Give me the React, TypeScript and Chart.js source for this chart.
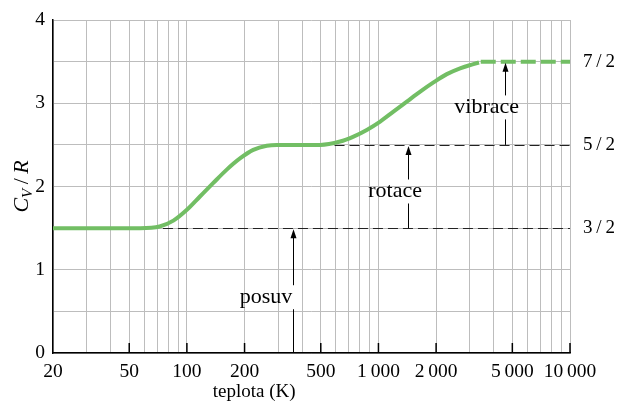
import { useEffect, useRef } from "react";
import { Chart, registerables } from "chart.js";
Chart.register(...registerables);

// Solid part of the curve: temperature (K) and C_V/R
const temperatureK = [20, 57, 72, 85, 100, 117, 137, 161, 190, 222, 261, 295, 496, 631, 741, 869, 1021, 1197, 1406, 1652, 1938, 2275, 2668, 3132, 3350];
const cvOverR = [1.5, 1.5, 1.52, 1.59, 1.72, 1.88, 2.04, 2.2, 2.34, 2.44, 2.49, 2.5, 2.5, 2.54, 2.6, 2.68, 2.78, 2.9, 3.02, 3.14, 3.25, 3.35, 3.42, 3.47, 3.49];
// Dashed continuation
const dashedT = [3420, 10000];
const dashedCv = [3.5, 3.5];

// Axis ticks
const gridT = [20, 30, 40, 50, 60, 70, 80, 90, 100, 200, 300, 400, 500, 600, 700, 800, 900, 1000, 2000, 3000, 4000, 5000, 6000, 7000, 8000, 9000, 10000];
const labeledT = [20, 50, 100, 200, 500, 1000, 2000, 5000, 10000];
const xTickLabels = ["20", "50", "100", "200", "500", "1\u2009000", "2\u2009000", "5\u2009000", "10\u2009000"];
const yGrid = [0, 0.5, 1, 1.5, 2, 2.5, 3, 3.5, 4];
const yLabeled = [0, 1, 2, 3, 4];
const yTickLabels = ["0", "1", "2", "3", "4"];

// Right-hand level labels
const levelValues = [1.5, 2.5, 3.5];
const levelLabels = ["3\u2009/\u20092", "5\u2009/\u20092", "7\u2009/\u20092"];

// Dashed reference levels
const dashedLevels = [1.5, 2.5];
const dashedFromT = [75, 590];

// Degrees of freedom annotations
const modeLabels = ["posuv", "rotace", "vibrace"];
const modeArrowT = [358, 1430, 4580];
const modeFrom = [0, 1.5, 2.5];
const modeTo = [1.5, 2.5, 3.5];
const modeTextT = [259, 1222, 3673];
const modeTextCv = [0.67, 1.94, 2.95];

const SERIF = "'Liberation Serif', 'Times New Roman', 'DejaVu Serif', serif";

const annotationPlugin = {
  id: "annotations",
  beforeDatasetsDraw(chart: any) {
    const { ctx, scales } = chart;
    const x = scales.x, y = scales.y;
    ctx.save();
    ctx.strokeStyle = "#222";
    ctx.lineWidth = 1;
    ctx.setLineDash([10, 5]);
    dashedLevels.forEach((lv, i) => {
      const py = Math.round(y.getPixelForValue(lv)) + 0.5;
      ctx.beginPath();
      ctx.moveTo(x.getPixelForValue(dashedFromT[i]), py);
      ctx.lineTo(x.getPixelForValue(10000), py);
      ctx.stroke();
    });
    ctx.restore();
  },
  afterDraw(chart: any) {
    const { ctx, scales, chartArea } = chart;
    const x = scales.x, y = scales.y;
    ctx.save();
    ctx.strokeStyle = "#000";
    ctx.lineWidth = 1.5;
    labeledT.forEach((t, i) => {
      if (i === 0) return;
      const px = x.getPixelForValue(t);
      ctx.beginPath();
      ctx.moveTo(px, chartArea.bottom);
      ctx.lineTo(px, chartArea.bottom - 10);
      ctx.stroke();
    });
    ctx.lineWidth = 1;
    ctx.fillStyle = "#000";
    modeLabels.forEach((lab, i) => {
      const px = Math.round(x.getPixelForValue(modeArrowT[i])) + 0.5;
      const yFrom = y.getPixelForValue(modeFrom[i]);
      const yTo = y.getPixelForValue(modeTo[i]);
      const yText = y.getPixelForValue(modeTextCv[i]);
      const gap = 12;
      ctx.beginPath();
      ctx.moveTo(px, yFrom);
      ctx.lineTo(px, yText + gap);
      ctx.moveTo(px, yText - gap);
      ctx.lineTo(px, yTo + 6);
      ctx.stroke();
      ctx.beginPath();
      ctx.moveTo(px, yTo + 1);
      ctx.lineTo(px - 3, yTo + 10);
      ctx.lineTo(px + 3, yTo + 10);
      ctx.closePath();
      ctx.fill();
      ctx.font = `22px ${SERIF}`;
      ctx.textAlign = "center";
      ctx.textBaseline = "middle";
      ctx.fillText(lab, x.getPixelForValue(modeTextT[i]), yText);
    });
    ctx.font = `19px ${SERIF}`;
    ctx.textAlign = "left";
    ctx.textBaseline = "middle";
    levelValues.forEach((lv, i) => {
      ctx.fillText(levelLabels[i], chartArea.right + 13, y.getPixelForValue(lv));
    });
    ctx.textAlign = "center";
    ctx.fillText("teplota (K)", chartArea.left + (chartArea.right - chartArea.left) * 0.389, chartArea.bottom + 39);
    ctx.translate(chartArea.left - 33, (chartArea.top + chartArea.bottom) / 2);
    ctx.rotate(-Math.PI / 2);
    ctx.textAlign = "left";
    ctx.textBaseline = "alphabetic";
    const parts = [
      { t: "C", f: `italic 22px ${SERIF}`, dy: 0 },
      { t: "V", f: `italic 15px ${SERIF}`, dy: 4 },
      { t: "\u2009/\u2009", f: `22px ${SERIF}`, dy: 0 },
      { t: "R", f: `italic 22px ${SERIF}`, dy: 0 },
    ];
    let total = 0;
    parts.forEach((p) => { ctx.font = p.f; total += ctx.measureText(p.t).width; });
    let cx = -total / 2;
    parts.forEach((p) => {
      ctx.font = p.f;
      ctx.fillText(p.t, cx, 8 + p.dy);
      cx += ctx.measureText(p.t).width;
    });
    ctx.restore();
  },
};

export default function App() {
  const ref = useRef<HTMLCanvasElement | null>(null);
  useEffect(() => {
    let chart: any = null;
    let cancelled = false;
    const build = () => {
      if (cancelled || !ref.current) return;
      chart = new Chart(ref.current, {
        type: "line",
        data: {
          datasets: [
            {
              data: temperatureK.map((t, i) => ({ x: t, y: cvOverR[i] })),
              borderColor: "rgb(114,190,100)",
              borderWidth: 4,
              pointRadius: 0,
              cubicInterpolationMode: "monotone",
              borderCapStyle: "butt",
              fill: false,
            },
            {
              data: dashedT.map((t, i) => ({ x: t, y: dashedCv[i] })),
              borderColor: "rgb(114,190,100)",
              borderWidth: 4,
              pointRadius: 0,
              borderDash: [15, 5],
              borderCapStyle: "butt",
              fill: false,
            },
          ],
        },
        options: {
          animation: false,
          responsive: false,
          layout: { padding: { top: 20, right: 47, left: 0, bottom: 0 } },
          plugins: { legend: { display: false }, tooltip: { enabled: false } },
          scales: {
            x: {
              type: "logarithmic",
              min: 20,
              max: 10000,
              afterBuildTicks: (s: any) => { s.ticks = gridT.map((v) => ({ value: v })); },
              afterFit: (s: any) => { s.height = 48; },
              ticks: {
                autoSkip: false,
                maxRotation: 0,
                padding: 7,
                color: "#000",
                font: { family: SERIF, size: 19.5 },
                callback: (v: any) => {
                  const i = labeledT.indexOf(Number(v));
                  return i >= 0 ? xTickLabels[i] : "";
                },
              },
              grid: { color: "#bdbdbd", lineWidth: 1, drawTicks: false },
              border: { color: "#000", width: 1.5 },
            },
            y: {
              type: "linear",
              min: 0,
              max: 4,
              afterBuildTicks: (s: any) => { s.ticks = yGrid.map((v) => ({ value: v })); },
              afterFit: (s: any) => { s.width = 53; },
              ticks: {
                padding: 8,
                color: "#000",
                font: { family: SERIF, size: 19.5 },
                callback: (v: any) => {
                  const i = yLabeled.indexOf(Number(v));
                  return i >= 0 ? yTickLabels[i] : "";
                },
              },
              grid: { color: "#bdbdbd", lineWidth: 1, drawTicks: false },
              border: { color: "#000", width: 1.5 },
            },
          },
        },
        plugins: [annotationPlugin],
      } as any);
    };
    const fonts: any = (document as any).fonts;
    if (fonts && fonts.load) {
      Promise.all([
        fonts.load("20px 'Liberation Serif'"),
        fonts.load("italic 20px 'Liberation Serif'"),
      ]).then(build, build);
    } else {
      build();
    }
    return () => {
      cancelled = true;
      if (chart) chart.destroy();
    };
  }, []);
  return (
    <div style={{ position: "absolute", left: 0, top: 0, width: 617, height: 401, background: "#fff" }}>
      <canvas ref={ref} width={617} height={401} style={{ width: 617, height: 401 }} />
    </div>
  );
}
